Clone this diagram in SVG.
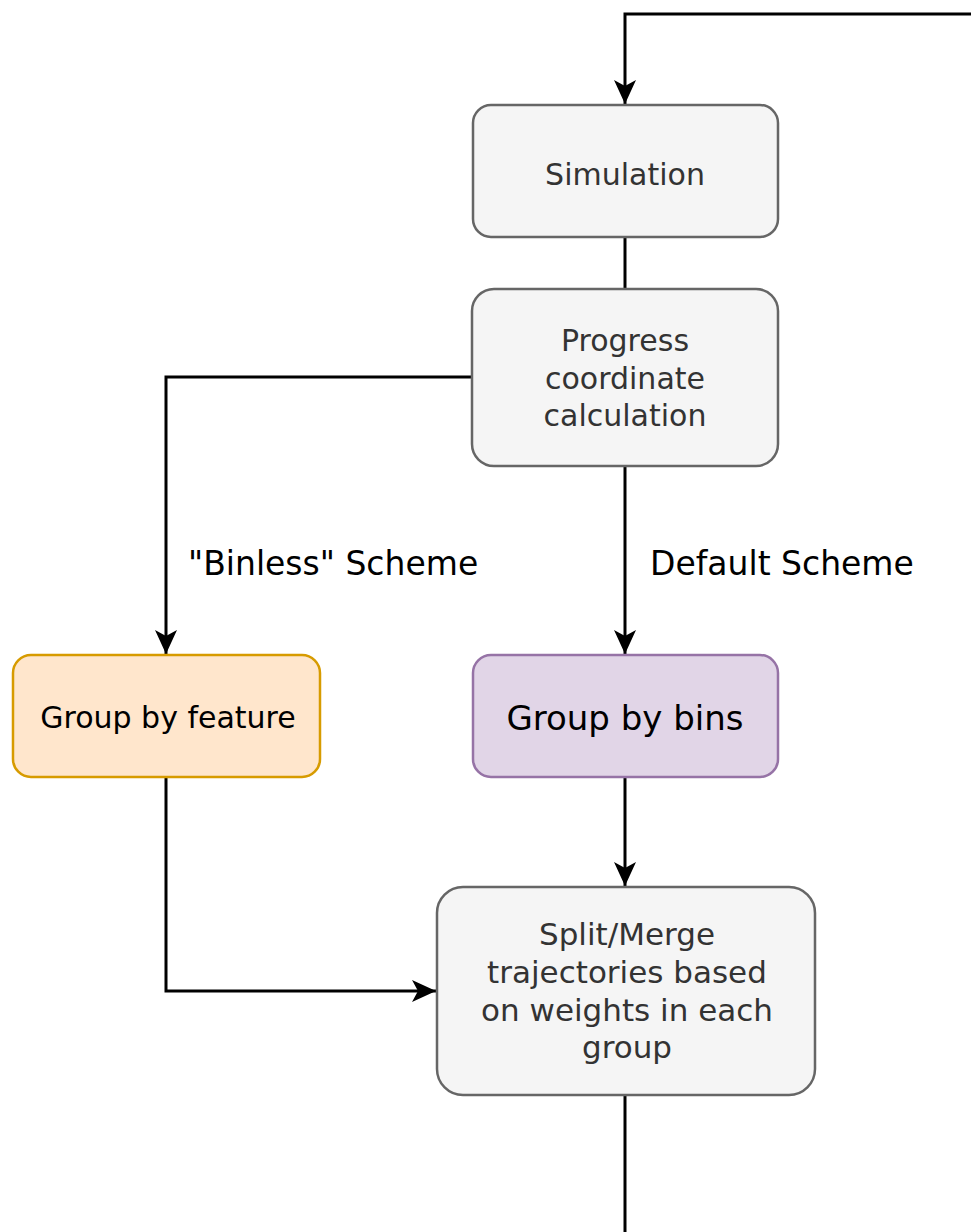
<svg xmlns="http://www.w3.org/2000/svg" width="971" height="1232" viewBox="0 0 971 1232">
<style>
.box{fill:#f5f5f5;stroke:#666666;stroke-width:2.5}
.t{font-family:"DejaVu Sans",sans-serif;text-anchor:middle;fill:#333333}
.c{fill:none;stroke:#000000;stroke-width:3}
.lbl{font-family:"DejaVu Sans",sans-serif;font-size:33px;fill:#000000}
</style>
<defs>
<marker id="arr" viewBox="0 0 24 24" refX="24" refY="12" markerWidth="24" markerHeight="24" markerUnits="userSpaceOnUse" orient="auto">
<path d="M0,1 L24,12 L0,23 L6,12 Z" fill="#000000"/>
</marker>
</defs>
<rect width="971" height="1232" fill="#ffffff"/>
<g id="connectors">
<path class="c" d="M971,14 H625 V104" marker-end="url(#arr)"/>
<path class="c" d="M625,237 V289"/>
<path class="c" d="M472,377 H166 V654" marker-end="url(#arr)"/>
<path class="c" d="M625,466 V654" marker-end="url(#arr)"/>
<path class="c" d="M625,777 V886" marker-end="url(#arr)"/>
<path class="c" d="M166,777 V991 H436" marker-end="url(#arr)"/>
<path class="c" d="M625,1095 V1232"/>
<text class="lbl" x="188" y="575">"Binless" Scheme</text>
<text class="lbl" x="650" y="575">Default Scheme</text>
</g>
<g id="simulation">
<rect class="box" x="473" y="105" width="305" height="132" rx="18"/>
<text class="t" x="625" y="185" font-size="30">Simulation</text>
</g>
<g id="progress">
<rect class="box" x="472" y="289" width="306" height="177" rx="22"/>
<text class="t" font-size="30"><tspan x="625" y="351">Progress</tspan><tspan x="625" y="389">coordinate</tspan><tspan x="625" y="426">calculation</tspan></text>
</g>
<g id="feature">
<rect x="13" y="655" width="307" height="122" rx="18" fill="#ffe6cc" stroke="#d79b00" stroke-width="2.5"/>
<text class="t" x="168" y="728" font-size="30" style="fill:#000">Group by feature</text>
</g>
<g id="bins">
<rect x="473" y="655" width="305" height="122" rx="18" fill="#e1d5e7" stroke="#9673a6" stroke-width="2.5"/>
<text class="t" x="625" y="730" font-size="34" style="fill:#000">Group by bins</text>
</g>
<g id="splitmerge">
<rect class="box" x="437" y="887" width="378" height="208" rx="26"/>
<text class="t" font-size="31"><tspan x="627" y="945">Split/Merge</tspan><tspan x="627" y="983">trajectories based</tspan><tspan x="627" y="1021">on weights in each</tspan><tspan x="627" y="1058">group</tspan></text>
</g>
</svg>
